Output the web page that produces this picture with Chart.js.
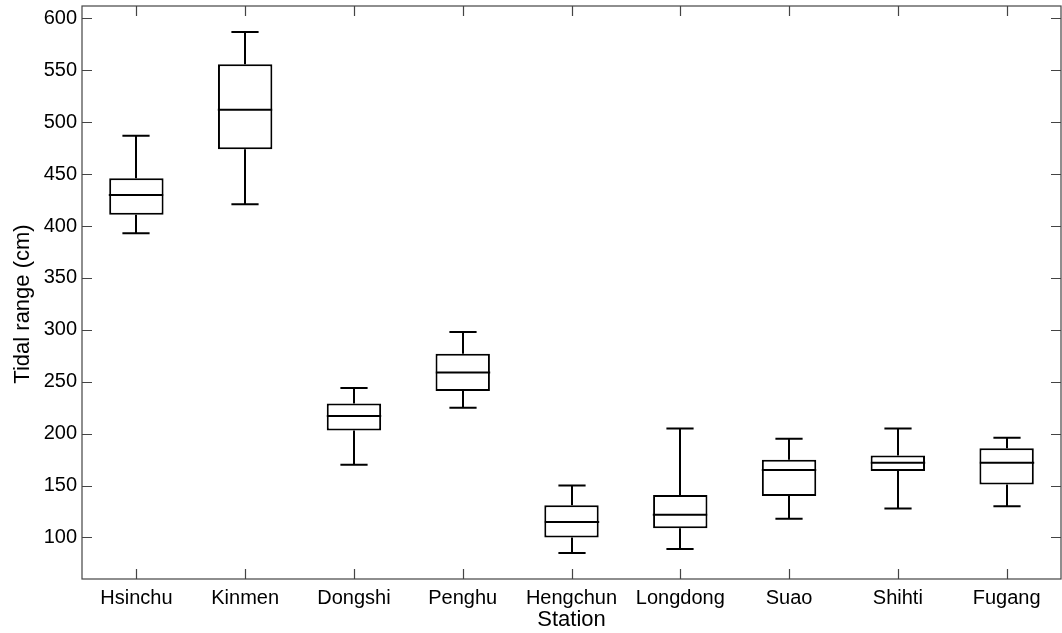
<!DOCTYPE html>
<html>
<head>
<meta charset="utf-8">
<script src="https://cdn.jsdelivr.net/npm/chart.js@4"></script>
<style>
  html, body { margin: 0; padding: 0; background: #fff; }
</style>
</head>
<body>
<canvas id="myChart" width="1062" height="633"></canvas>
<script>
// stations and box plot stats (cm)
const stations = ['Hsinchu', 'Kinmen', 'Dongshi', 'Penghu', 'Hengchun', 'Longdong', 'Suao', 'Shihti', 'Fugang'];
const whiskerLow  = [393, 421, 170, 225,  85,  89, 118, 128, 130];
const boxLow      = [411, 474, 203, 241, 100, 109, 140, 164, 151];
const medians     = [430, 512, 217, 259, 115, 122, 165, 172, 172];
const boxHigh     = [446, 556, 229, 277, 131, 141, 175, 179, 186];
const whiskerHigh = [487, 587, 244, 298, 150, 205, 195, 205, 196];
const yTicks = [100, 150, 200, 250, 300, 350, 400, 450, 500, 550, 600];
const yTitle = 'Tidal range (cm)';

const fontFam = '"Liberation Sans", Arial, Helvetica, sans-serif';

// whiskers, caps and median line, drawn through the scales
const boxPlot = {
  id: 'boxPlot',
  afterDatasetsDraw(chart) {
    const ctx = chart.ctx;
    const y = chart.scales.y;
    const meta = chart.getDatasetMeta(0);
    ctx.save();
    ctx.strokeStyle = '#000';
    ctx.lineWidth = 2;
    meta.data.forEach((bar, i) => {
      const cx = Math.round(bar.x);
      const half = bar.width / 2;
      const cap = half / 2;
      const yMin = y.getPixelForValue(whiskerLow[i]);
      const yQ1 = y.getPixelForValue(boxLow[i]);
      const yMed = y.getPixelForValue(medians[i]);
      const yQ3 = y.getPixelForValue(boxHigh[i]);
      const yMax = y.getPixelForValue(whiskerHigh[i]);
      ctx.beginPath();
      ctx.moveTo(cx, yQ3); ctx.lineTo(cx, yMax);
      ctx.moveTo(cx - cap, yMax); ctx.lineTo(cx + cap, yMax);
      ctx.moveTo(cx, yQ1); ctx.lineTo(cx, yMin);
      ctx.moveTo(cx - cap, yMin); ctx.lineTo(cx + cap, yMin);
      ctx.moveTo(cx - half, yMed); ctx.lineTo(cx + half, yMed);
      ctx.stroke();
    });
    ctx.restore();
  },
  // frame, inward ticks on all four sides, y title
  afterDraw(chart) {
    const ctx = chart.ctx;
    const a = chart.chartArea;
    const x = chart.scales.x, y = chart.scales.y;
    const len = 10;
    ctx.save();
    ctx.strokeStyle = '#444';
    ctx.lineWidth = 1.2;
    ctx.strokeRect(a.left, a.top, a.right - a.left, a.bottom - a.top);
    ctx.beginPath();
    yTicks.forEach(v => {
      const py = Math.round(y.getPixelForValue(v)) + 0.5;
      ctx.moveTo(a.left, py); ctx.lineTo(a.left + len, py);
      ctx.moveTo(a.right, py); ctx.lineTo(a.right - len, py);
    });
    stations.forEach((s, i) => {
      const px = Math.round(x.getPixelForValue(i)) + 0.5;
      ctx.moveTo(px, a.bottom); ctx.lineTo(px, a.bottom - len);
      ctx.moveTo(px, a.top); ctx.lineTo(px, a.top + len);
    });
    ctx.stroke();
    ctx.translate(29, 304);
    ctx.rotate(-Math.PI / 2);
    ctx.fillStyle = '#000';
    ctx.font = '22px ' + fontFam;
    ctx.textAlign = 'center';
    ctx.textBaseline = 'alphabetic';
    ctx.fillText(yTitle, 0, 0);
    ctx.restore();
  }
};

const data = {
  labels: stations,
  datasets: [{
    label: 'box',
    data: stations.map((s, i) => [boxLow[i], boxHigh[i]]),
    backgroundColor: '#fff',
    borderColor: '#000',
    borderWidth: 2,
    borderSkipped: false,
    categoryPercentage: 1,
    barPercentage: 0.5
  }]
};

const config = {
  type: 'bar',
  data,
  options: {
    responsive: false,
    animation: false,
    devicePixelRatio: 1,
    layout: { padding: { top: 6, right: 1, left: 0, bottom: 0 } },
    plugins: {
      legend: { display: false },
      tooltip: { enabled: false }
    },
    scales: {
      x: {
        grid: { display: false, drawTicks: false },
        border: { display: false },
        ticks: { color: '#000', padding: 7, font: { family: fontFam, size: 20 }, maxRotation: 0, autoSkip: false },
        title: { display: true, text: 'Station', color: '#000', padding: 0, font: { family: fontFam, size: 22 } },
        afterFit: s => { s.height = 54; s.paddingLeft = 0; s.paddingRight = 0; }
      },
      y: {
        min: 60,
        max: 612,
        afterBuildTicks: s => { s.ticks = yTicks.map(v => ({ value: v })); },
        grid: { display: false, drawTicks: false },
        border: { display: false },
        ticks: { color: '#000', padding: 5, font: { family: fontFam, size: 20 } },
        afterFit: s => { s.width = 82; s.paddingTop = 0; s.paddingBottom = 0; }
      }
    }
  },
  plugins: [boxPlot]
};

const myChart = new Chart(document.getElementById('myChart'), config);
</script>
</body>
</html>
